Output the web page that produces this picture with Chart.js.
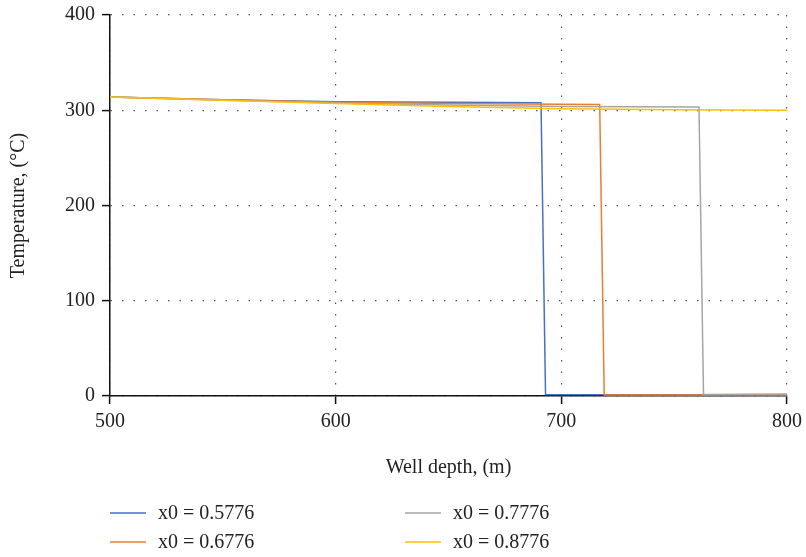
<!DOCTYPE html>
<html>
<head>
<meta charset="utf-8">
<script src="https://cdn.jsdelivr.net/npm/chart.js@4.4.0/dist/chart.umd.min.js"></script>
<style>
  html, body { margin: 0; padding: 0; background: #fff; }
  #wrap { width: 806px; height: 557px; }
</style>
</head>
<body>
<div id="wrap"><canvas id="tempChart" width="806" height="557"></canvas></div>
<script>
// series labels and colours
const seriesLabels = ['x0 = 0.5776', 'x0 = 0.6776', 'x0 = 0.7776', 'x0 = 0.8776'];
const seriesColors = ['#4472C4', '#ED7D31', '#A5A5A5', '#FFC000'];

// well depth (m) and temperature (°C)
const depthA = [500, 550, 600, 650, 691, 693, 750, 800];
const tempA  = [314, 311, 309, 308.5, 308, 1.5, 1.2, 1];
const depthB = [500, 550, 600, 650, 717, 719, 760, 800];
const tempB  = [314, 311, 308.5, 307, 306, 1, 1, 1];
const depthC = [500, 550, 600, 650, 700, 761, 763, 800];
const tempC  = [314, 310.5, 307.5, 305.5, 304, 303.5, 1.5, 2];
const depthD = [500, 550, 600, 650, 700, 750, 800];
const tempD  = [314, 310.5, 307, 304, 301.5, 300.5, 300];

const xTicks = [500, 600, 700, 800];
const yTicks = [0, 100, 200, 300, 400];

const allDepths = [depthA, depthB, depthC, depthD];
const allTemps = [tempA, tempB, tempC, tempD];

const FONT = "'Liberation Serif', 'DejaVu Serif', serif";
const FONT_SIZE = 20;

function toPoints(xs, ys) {
    return xs.map((x, i) => ({ x: x, y: ys[i] }));
}

const datasets = seriesLabels.map((label, i) => ({
    label: label,
    data: toPoints(allDepths[i], allTemps[i]),
    borderColor: seriesColors[i],
    backgroundColor: seriesColors[i],
    borderWidth: 1.5,
    pointRadius: 0,
    tension: 0,
    fill: false,
    order: seriesLabels.length - i // later series drawn on top
}));

// legend in two columns under the chart
const legendPlugin = {
    id: 'twoColLegend',
    afterDraw(chart) {
        const ctx = chart.ctx;
        const cols = [110, 405];
        const rows = [513, 542];
        ctx.save();
        ctx.font = FONT_SIZE + 'px ' + FONT;
        ctx.textBaseline = 'middle';
        ctx.fillStyle = '#222';
        chart.data.datasets.forEach((ds, i) => {
            const x = cols[Math.floor(i / 2)];
            const y = rows[i % 2];
            ctx.strokeStyle = ds.borderColor;
            ctx.lineWidth = 1.5;
            ctx.beginPath();
            ctx.moveTo(x, y);
            ctx.lineTo(x + 36, y);
            ctx.stroke();
            ctx.fillText(ds.label, x + 48, y + 1);
        });
        ctx.restore();
    }
};

new Chart(document.getElementById('tempChart'), {
    type: 'line',
    data: { datasets: datasets },
    options: {
        responsive: false,
        animation: false,
        layout: { padding: { top: 15, right: 19, bottom: 77, left: 0 } },
        plugins: {
            legend: { display: false },
            tooltip: { enabled: false }
        },
        scales: {
            x: {
                type: 'linear',
                min: 500,
                max: 800,
                afterBuildTicks: (scale) => { scale.ticks = xTicks.map(v => ({ value: v })); },
                afterFit: (scale) => {
                    scale.height = 84;
                    scale.paddingLeft = 0;
                    scale.paddingRight = 0;
                },
                ticks: {
                    font: { family: FONT, size: FONT_SIZE },
                    color: '#222',
                    padding: 6,
                    maxRotation: 0
                },
                grid: {
                    color: '#555',
                    lineWidth: 1.2,
                    tickColor: '#111',
                    tickLength: 8,
                    tickWidth: 1.5
                },
                border: { display: true, color: '#111', width: 1.5, dash: [1.5, 10] },
                title: {
                    display: true,
                    text: 'Well depth, (m)',
                    font: { family: FONT, size: FONT_SIZE },
                    color: '#222',
                    padding: { top: 0, bottom: 0 }
                }
            },
            y: {
                min: 0,
                max: 400,
                afterBuildTicks: (scale) => { scale.ticks = yTicks.map(v => ({ value: v })); },
                afterFit: (scale) => {
                    scale.width = 110;
                    scale.paddingTop = 0;
                    scale.paddingBottom = 0;
                },
                ticks: {
                    font: { family: FONT, size: FONT_SIZE },
                    color: '#222',
                    padding: 7
                },
                grid: {
                    color: '#555',
                    lineWidth: 1.2,
                    tickColor: '#111',
                    tickLength: 8,
                    tickWidth: 1.5
                },
                border: { display: true, color: '#111', width: 1.5, dash: [1.5, 10] },
                title: {
                    display: true,
                    text: 'Temperature, (°C)',
                    font: { family: FONT, size: FONT_SIZE },
                    color: '#222',
                    padding: { top: 7, bottom: 0 }
                }
            }
        }
    },
    plugins: [legendPlugin]
});
</script>
</body>
</html>
